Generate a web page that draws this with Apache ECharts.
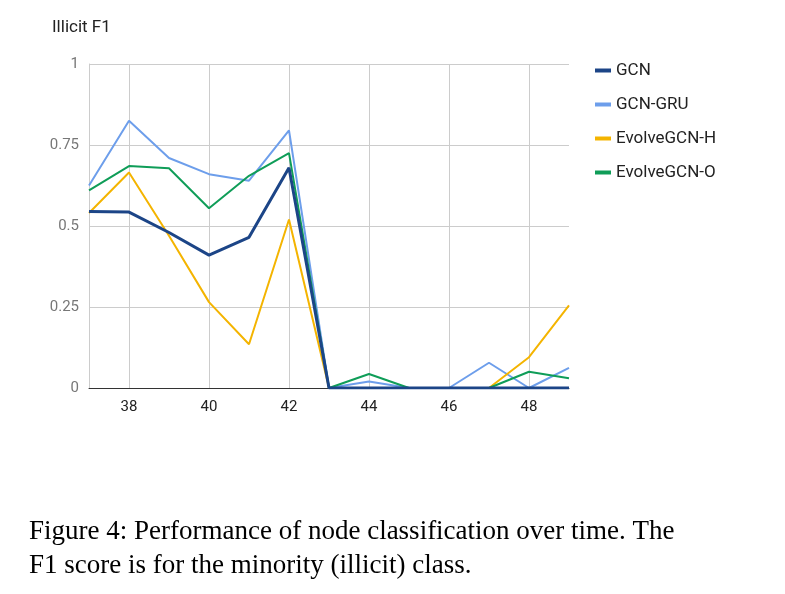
<!DOCTYPE html>
<html>
<head>
<meta charset="utf-8">
<script src="https://cdn.jsdelivr.net/npm/echarts@6/dist/echarts.min.js"></script>
<style>
  body { margin: 0; background: #fff; }
  #chart { width: 785px; height: 594px; }
</style>
</head>
<body>
<div id="chart"></div>
<script>
// time steps and F1 scores for the illicit class
var steps = ['37', '38', '39', '40', '41', '42', '43', '44', '45', '46', '47', '48', '49'];
var gcn = [0.545, 0.543, 0.48, 0.41, 0.465, 0.68, 0, 0, 0, 0, 0, 0, 0];
var gcnGru = [0.625, 0.825, 0.71, 0.66, 0.64, 0.795, 0, 0.02, 0, 0, 0.078, 0, 0.062];
var evolveH = [0.54, 0.665, 0.47, 0.265, 0.135, 0.52, 0, 0, 0, 0, 0, 0.095, 0.255];
var evolveO = [0.61, 0.685, 0.678, 0.555, 0.655, 0.725, 0, 0.043, 0, 0, 0, 0.05, 0.03];
var yTicks = [0, 0.25, 0.5, 0.75, 1];

var chart = echarts.init(document.getElementById('chart'));

function mkSeries(name, data, color) {
  return {
    name: name,
    type: 'line',
    data: data,
    symbol: 'none',
    lineStyle: { width: name === 'GCN' ? 3 : 2, color: color },
    itemStyle: { color: color }
  };
}

var option = {
  animation: false,
  title: [{
    text: 'Illicit F1',
    left: 47, top: 14,
    textStyle: { fontFamily: 'Roboto', fontSize: 17, fontWeight: 'normal', color: '#222' }
  }, {
    text: 'Figure 4: Performance of node classification over time. The\nF1 score is for the minority (illicit) class.',
    left: 24, top: 510,
    textStyle: { fontFamily: 'Liberation Serif', fontSize: 27, fontWeight: 'normal', color: '#000', lineHeight: 34 }
  }],
  legend: {
    orient: 'vertical',
    left: 590, top: 57,
    itemGap: 17,
    itemWidth: 16, itemHeight: 4,
    icon: 'rect',
    textStyle: { fontFamily: 'Roboto', fontSize: 17, color: '#222' },
    data: ['GCN', 'GCN-GRU', 'EvolveGCN-H', 'EvolveGCN-O']
  },
  grid: { left: 89, right: 216, top: 64, bottom: 206 },
  xAxis: {
    type: 'category',
    data: steps,
    boundaryGap: false,
    axisLine: { lineStyle: { color: '#333' } },
    axisTick: { show: false },
    axisLabel: {
      interval: function (i) { return i % 2 === 1; },
      fontFamily: 'Roboto', fontSize: 15, color: '#222', margin: 12
    },
    splitLine: {
      show: true,
      interval: function (i) { return i % 2 === 1; },
      lineStyle: { color: '#ccc' }
    }
  },
  yAxis: {
    type: 'value',
    min: 0, max: 1, interval: 0.25,
    axisLine: { show: true, lineStyle: { color: '#ccc' } },
    axisTick: { show: false },
    axisLabel: {
      fontFamily: 'Roboto', fontSize: 15, color: '#777', margin: 10,
      formatter: function (v) { return yTicks.indexOf(v) >= 0 ? String(v) : ''; }
    },
    splitLine: { lineStyle: { color: '#ccc' } }
  },
  series: [
    mkSeries('GCN-GRU', gcnGru, '#6d9eeb'),
    mkSeries('EvolveGCN-H', evolveH, '#f4b400'),
    mkSeries('EvolveGCN-O', evolveO, '#0f9d58'),
    mkSeries('GCN', gcn, '#1c4587')
  ]
};

chart.setOption(option);
</script>
</body>
</html>
